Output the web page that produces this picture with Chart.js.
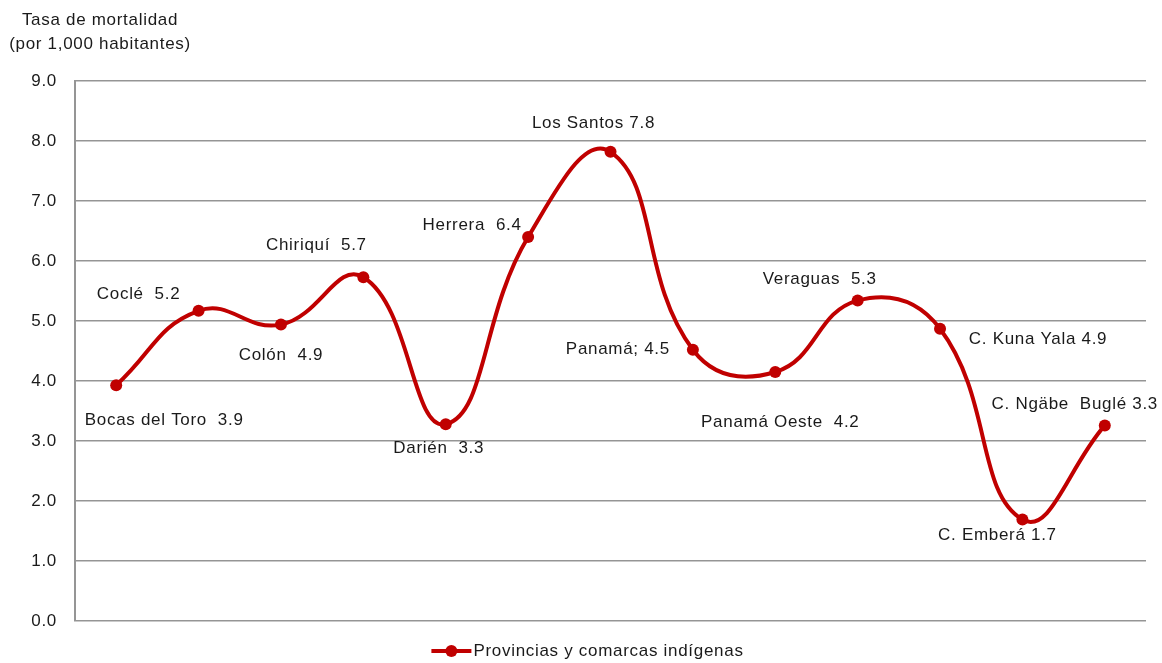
<!DOCTYPE html>
<html>
<head>
<meta charset="utf-8">
<script src="https://cdn.jsdelivr.net/npm/chart.js@4/dist/chart.umd.min.js"></script>
<style>
  html, body { margin: 0; padding: 0; background: #ffffff; }
  #wrap { width: 1162px; height: 663px; position: relative; }
</style>
</head>
<body>
<div id="wrap"><canvas id="c" width="1162" height="663"></canvas></div>
<script>
// ---- data ----
const categories = ["Bocas del Toro", "Coclé", "Colón", "Chiriquí", "Darién", "Herrera", "Los Santos",
  "Panamá;", "Panamá Oeste", "Veraguas", "C. Kuna Yala", "C. Emberá", "C. Ngäbe Buglé"];
const values = [3.93, 5.17, 4.94, 5.73, 3.28, 6.40, 7.82, 4.52, 4.15, 5.34, 4.87, 1.69, 3.26];
const pointLabels = ["Bocas del Toro  3.9", "Coclé  5.2", "Colón  4.9", "Chiriquí  5.7", "Darién  3.3",
  "Herrera  6.4", "Los Santos 7.8", "Panamá; 4.5", "Panamá Oeste  4.2", "Veraguas  5.3",
  "C. Kuna Yala 4.9", "C. Emberá 1.7", "C. Ngäbe  Buglé 3.3"];
const seriesName = "Provincias y comarcas indígenas";
const yTicks = [0, 1, 2, 3, 4, 5, 6, 7, 8, 9];
const axisTitle = ["Tasa de mortalidad", "(por 1,000 habitantes)"];

// ---- label placement (offsets of label centre from point, px) ----
const labelOffsets = [
  [48, 35], [-60, -16], [0, 31], [-47, -32], [-7, 24], [-56, -12], [-17, -28],
  [-75, 0], [5, 50], [-38, -21], [98, 11], [-25, 16], [-30, -21]
];

const RED = "#C00000";
const FONT = "'Liberation Sans', Arial, sans-serif";
const TEXT = "#1a1a1a";
const SPACING = "0.7px";

const spacingPlugin = {
  id: "spacing",
  beforeDraw(chart) { chart.ctx.letterSpacing = SPACING; }
};

const labelPlugin = {
  id: "pointLabels",
  afterDatasetsDraw(chart) {
    const ctx = chart.ctx;
    const meta = chart.getDatasetMeta(0);
    ctx.save();
    ctx.letterSpacing = SPACING;
    ctx.font = "17px " + FONT;
    ctx.fillStyle = TEXT;
    ctx.textAlign = "center";
    ctx.textBaseline = "middle";
    meta.data.forEach((pt, i) => {
      const o = labelOffsets[i];
      ctx.fillText(pointLabels[i], pt.x + o[0], pt.y + o[1]);
    });
    ctx.restore();
  }
};

const titleLegendPlugin = {
  id: "titleLegend",
  afterDraw(chart) {
    const ctx = chart.ctx;
    const area = chart.chartArea;
    ctx.save();
    ctx.letterSpacing = SPACING;
    ctx.font = "17px " + FONT;
    ctx.fillStyle = TEXT;
    ctx.textBaseline = "middle";
    // axis title
    ctx.textAlign = "center";
    const cx = area.left + 25;
    ctx.fillText(axisTitle[0], cx, 20);
    ctx.fillText(axisTitle[1], cx, 44);
    // legend
    const tw = ctx.measureText(seriesName).width;
    const mw = 40, gap = 2;
    const total = mw + gap + tw;
    const x0 = (area.left + area.right) / 2 - total / 2 - 23;
    const y = 651;
    ctx.strokeStyle = RED; ctx.lineWidth = 4;
    ctx.beginPath(); ctx.moveTo(x0, y); ctx.lineTo(x0 + mw, y); ctx.stroke();
    ctx.fillStyle = RED;
    ctx.beginPath(); ctx.arc(x0 + mw / 2, y, 6, 0, Math.PI * 2); ctx.fill();
    ctx.fillStyle = TEXT;
    ctx.textAlign = "left";
    ctx.fillText(seriesName, x0 + mw + gap, y);
    ctx.restore();
  }
};

new Chart(document.getElementById("c"), {
  type: "line",
  data: {
    labels: categories,
    datasets: [{
      label: seriesName,
      data: values,
      borderColor: RED,
      backgroundColor: RED,
      borderWidth: 4,
      pointRadius: 6,
      pointHoverRadius: 6,
      pointBackgroundColor: RED,
      pointBorderWidth: 0,
      tension: 0.45,
      fill: false,
      clip: false
    }]
  },
  options: {
    responsive: false,
    animation: false,
    events: [],
    layout: { padding: { left: 0, top: 81, right: 16, bottom: 42 } },
    scales: {
      x: {
        type: "category",
        offset: true,
        display: false
      },
      y: {
        min: 0,
        max: 9,
        afterBuildTicks(scale) { scale.ticks = yTicks.map(v => ({ value: v })); },
        afterFit(scale) { scale.width = 75; },
        ticks: {
          callback: v => Number(v).toFixed(1),
          font: { family: FONT, size: 17 },
          color: TEXT,
          padding: 18
        },
        grid: { color: "#959595", lineWidth: 1.5, drawTicks: false },
        border: { display: true, color: "#959595", width: 2 }
      }
    },
    plugins: {
      legend: { display: false },
      tooltip: { enabled: false },
      title: { display: false }
    }
  },
  plugins: [spacingPlugin, labelPlugin, titleLegendPlugin]
});
</script>
</body>
</html>
